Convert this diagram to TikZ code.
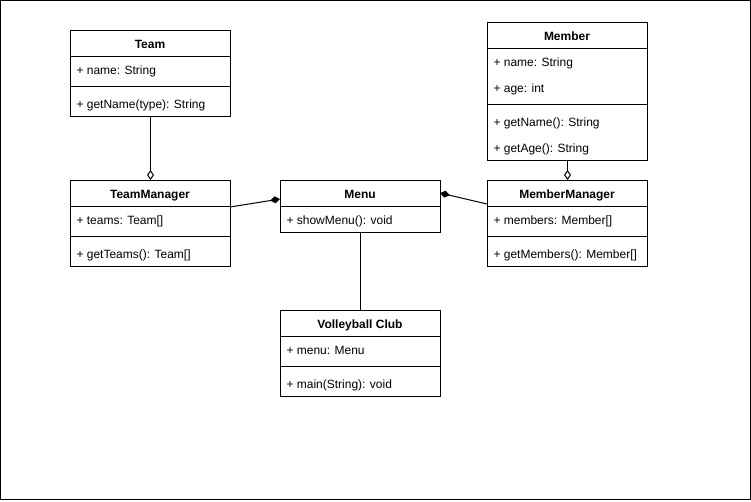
\documentclass[tikz,border=0pt]{standalone}
\usepackage{fontspec}
\setmainfont{Liberation Sans}
\usetikzlibrary{arrows.meta}
\begin{document}
\begin{tikzpicture}[x=1pt,y=-1pt, line width=1pt,
  cls/.style={draw, rectangle, inner sep=0pt, anchor=north west, minimum width=160pt},
  hdr/.style={font=\fontsize{12}{14}\selectfont\bfseries, anchor=base, inner sep=0pt, yshift=-1pt},
  itm/.style={font=\fontsize{12}{14}\selectfont, anchor=base west, inner sep=0pt, yshift=-1pt},
  agg/.style={-{Diamond[open,length=10pt,width=7pt]}},
  comp/.style={-{Diamond[length=10pt,width=7pt]}},
  compr/.style={{Diamond[length=10pt,width=7pt]}-}]
\useasboundingbox (0,0) rectangle (751,501);
\draw (0.5,0.5) rectangle (750,499.5);

% Team
\node[cls, minimum height=86pt] (team) at (70,30) {};
\draw (70,56) -- (230,56);
\draw (70,86) -- (230,86);
\node[hdr] (teamT) at (150,47.5) {Team};
\node[itm] (teamA) at (76,73.5) {+ name: String};
\node[itm] (teamM) at (76,107.5) {+ getName(type): String};

% Member
\node[cls, minimum height=138pt] (member) at (487,22) {};
\draw (487,48) -- (647,48);
\draw (487,104) -- (647,104);
\node[hdr] (memberT) at (567,39.5) {Member};
\node[itm] (memberA1) at (493,65.5) {+ name: String};
\node[itm] (memberA2) at (493,91.5) {+ age: int};
\node[itm] (memberM1) at (493,125.5) {+ getName(): String};
\node[itm] (memberM2) at (493,151.5) {+ getAge(): String};

% TeamManager
\node[cls, minimum height=86pt] (tm) at (70,180) {};
\draw (70,206) -- (230,206);
\draw (70,236) -- (230,236);
\node[hdr] (tmT) at (150,197.5) {TeamManager};
\node[itm] (tmA) at (76,223.5) {+ teams: Team[]};
\node[itm] (tmM) at (76,257.5) {+ getTeams(): Team[]};

% Menu
\node[cls, minimum height=52pt] (menu) at (280,180) {};
\draw (280,206) -- (440,206);
\node[hdr] (menuT) at (360,197.5) {Menu};
\node[itm] (menuM) at (286,223.5) {+ showMenu(): void};

% MemberManager
\node[cls, minimum height=86pt] (mm) at (487,180) {};
\draw (487,206) -- (647,206);
\draw (487,236) -- (647,236);
\node[hdr] (mmT) at (567,197.5) {MemberManager};
\node[itm] (mmA) at (493,223.5) {+ members: Member[]};
\node[itm] (mmM) at (493,257.5) {+ getMembers(): Member[]};

% Volleyball Club
\node[cls, minimum height=86pt] (vc) at (280,310) {};
\draw (280,336) -- (440,336);
\draw (280,366) -- (440,366);
\node[hdr] (vcT) at (360,327.5) {Volleyball Club};
\node[itm] (vcA) at (286,353.5) {+ menu: Menu};
\node[itm] (vcM) at (286,387.5) {+ main(String): void};

% connectors
\coordinate (c1) at (230,207);
\coordinate (c2) at (280,199);
\coordinate (c3) at (440,193);
\coordinate (c4) at (487,204);
\draw[agg] (team.south) -- (tm.north);
\draw[agg] (member.south) -- (mm.north);
\draw[comp] (c1) -- (c2);
\draw[compr] (c3) -- (c4);
\draw (menu.south) -- (vc.north);
\end{tikzpicture}
\end{document}
